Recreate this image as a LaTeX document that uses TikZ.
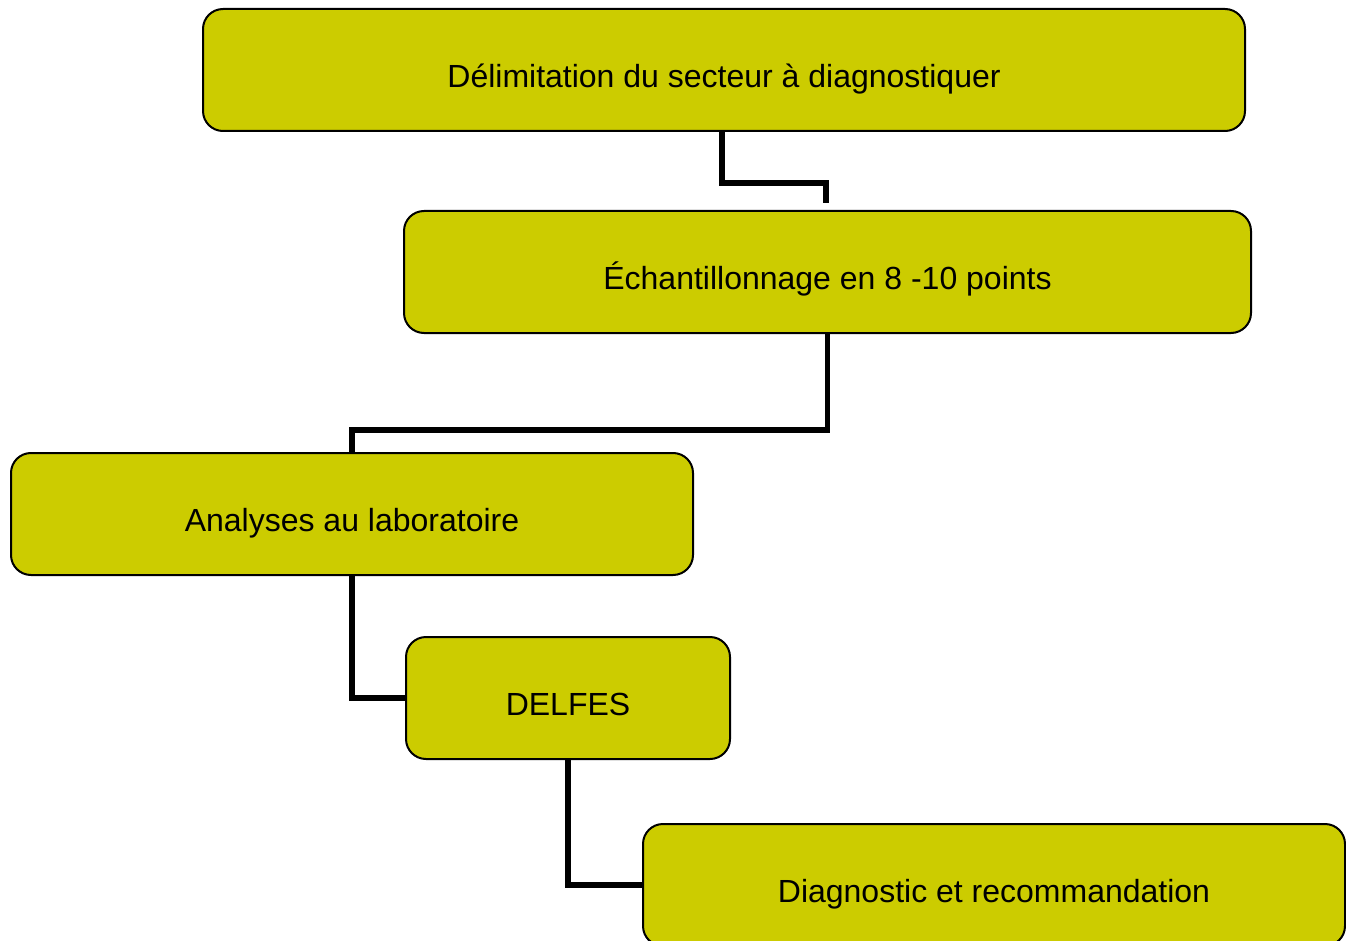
\documentclass[tikz,border=0pt]{standalone}
\usepackage{fontspec}
\setmainfont{Liberation Sans}
\definecolor{boxfill}{RGB}{204,204,0}
\begin{document}
\begin{tikzpicture}[x=1pt,y=1pt,
  stepbox/.style={draw=black, line width=2pt, fill=boxfill, rounded corners=20pt,
    inner sep=0pt, text height=40pt, text depth=5.5pt,
    font=\fontsize{32}{36}\selectfont},
  conn/.style={draw=black, line width=5.5pt}]
\useasboundingbox (0,0) rectangle (1346,-941);
\clip (0,0) rectangle (1346,-941);
\node[stepbox, minimum width=1042pt, minimum height=122pt] (b1) at (724,-70) {Délimitation du secteur à diagnostiquer};
\node[stepbox, minimum width=847pt, minimum height=122pt] (b2) at (827.5,-272) {Échantillonnage en 8 -10 points};
\node[stepbox, minimum width=682pt, minimum height=122pt] (b3) at (352,-514) {Analyses au laboratoire};
\node[stepbox, minimum width=324pt, minimum height=122pt] (b4) at (568,-698) {DELFES};
\node[stepbox, minimum width=702pt, minimum height=122pt] (b5) at (994,-885) {Diagnostic et recommandation};
\draw[conn] ([xshift=-2pt]b1.south) -- ++(0,-51) -| ([xshift=-1.5pt,yshift=7pt]b2.north);
\draw[conn] (b2.south) -- ++(0,-96) -| (b3.north);
\draw[conn] (b3.south) |- (b4.west);
\draw[conn] (b4.south) |- (b5.west);
\end{tikzpicture}
\end{document}
